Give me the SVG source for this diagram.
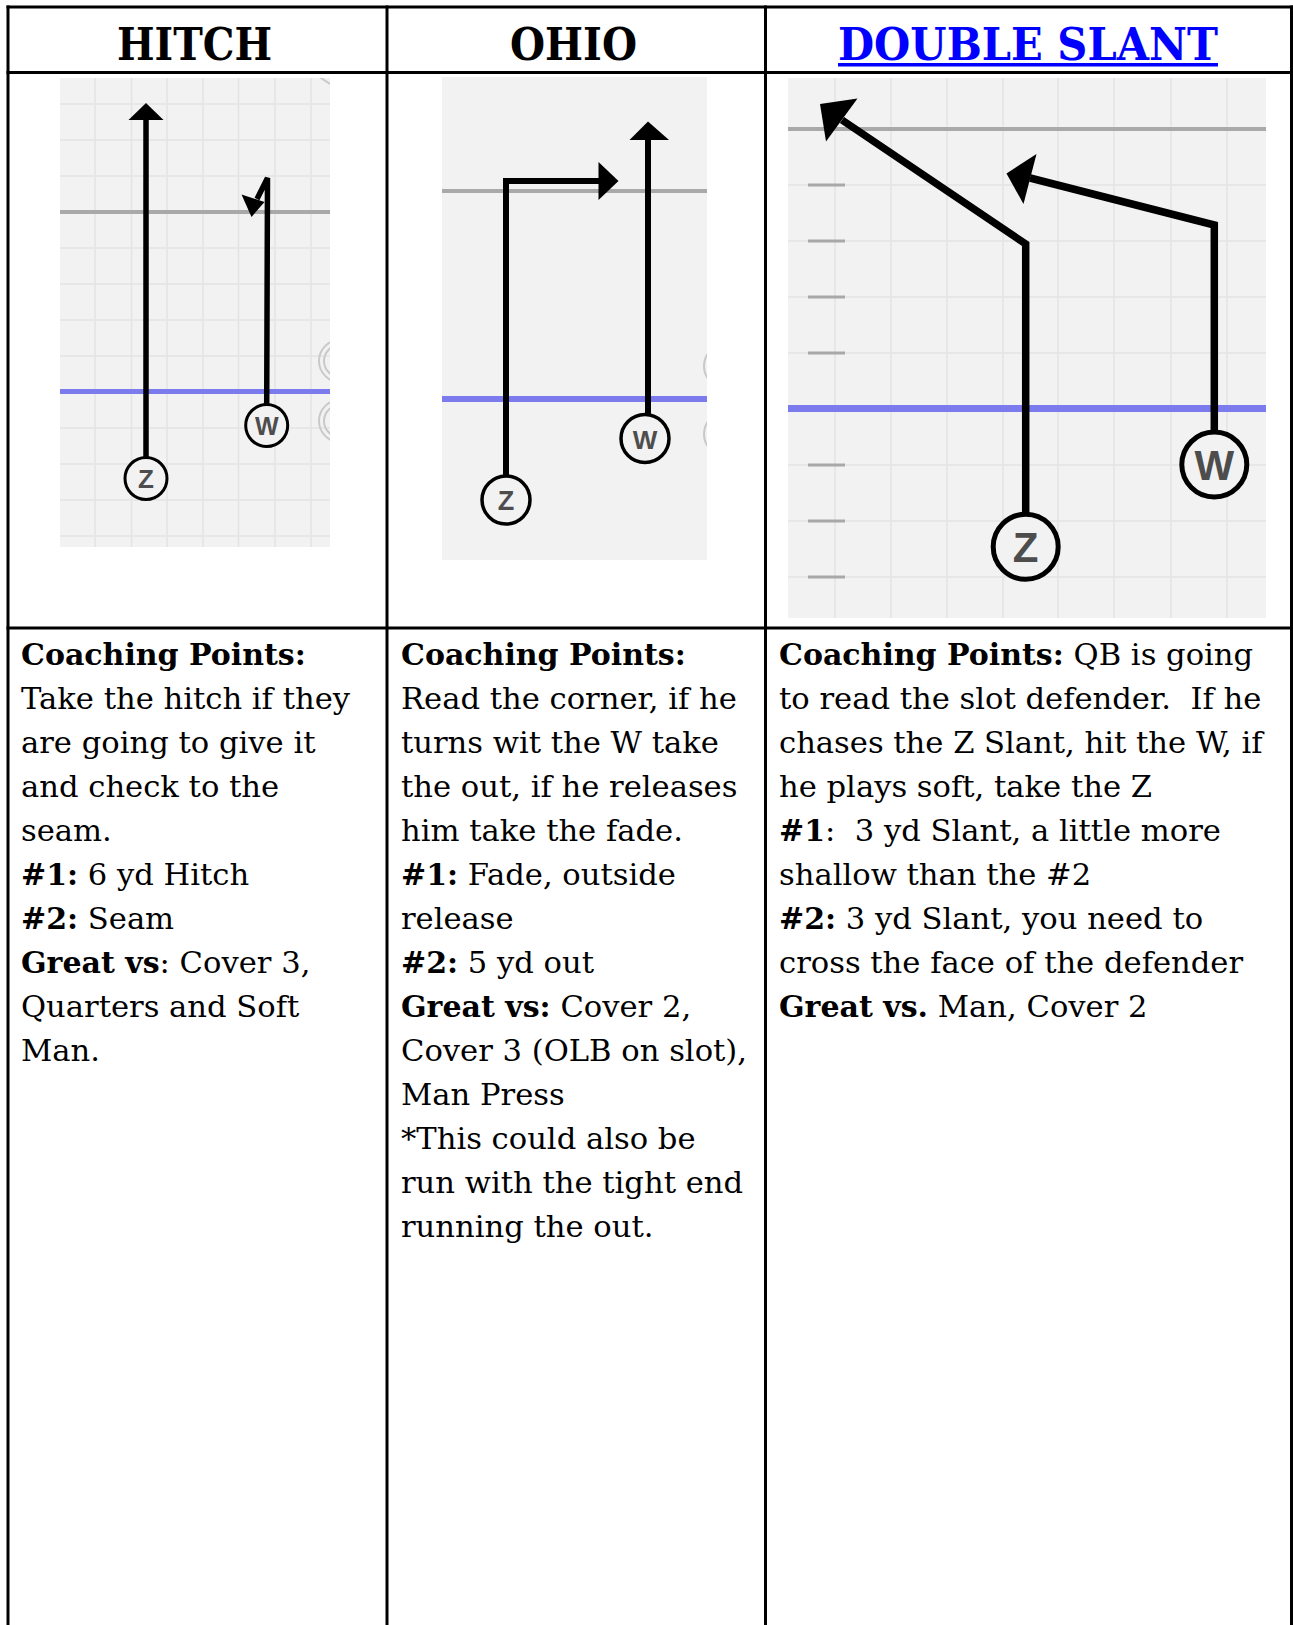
<svg xmlns="http://www.w3.org/2000/svg" width="1293" height="1625" viewBox="0 0 1293 1625">
<style>
.grid{stroke:#000;stroke-width:3;fill:none}
.hdr{font-family:"DejaVu Serif","Liberation Serif",serif;font-weight:bold;font-size:45px;fill:#000}
.link{fill:#0000ff}
.body{font-family:"DejaVu Serif","Liberation Serif",serif;font-size:30.6px;fill:#000}
.b{font-weight:bold;font-size:30px}
.field{fill:#f2f2f2}
.gl{stroke:#e4e4e4;stroke-width:1.5;fill:none}
.los{stroke:#a9a9a9;stroke-width:4;fill:none}
.blue{stroke:#7b7bee;fill:none}
.hash{stroke:#a8a8a8;stroke-width:3;fill:none}
.route{stroke:#000;fill:none;stroke-linejoin:miter;stroke-linecap:butt}
.head{fill:#000}
.plr{fill:#f2f2f2;stroke:#000}
.lbl{font-family:"Liberation Sans",Arial,sans-serif;font-weight:bold;fill:#4d4d4d;text-anchor:middle}
.ghost{fill:none;stroke:#c9c9c9;stroke-width:2}
</style>
<defs>
<clipPath id="c1"><rect x="60" y="78" width="270" height="469"/></clipPath>
<clipPath id="c2"><rect x="442" y="77" width="265" height="483"/></clipPath>
<clipPath id="c3"><rect x="788" y="78" width="478" height="540"/></clipPath>
</defs>
<rect x="0" y="0" width="1293" height="1625" fill="#fff"/>

<g id="table">
<line class="grid" x1="6.5" y1="7" x2="1293" y2="7"/>
<line class="grid" x1="6.5" y1="72.5" x2="1293" y2="72.5"/>
<line class="grid" x1="6.5" y1="628" x2="1293" y2="628"/>
<line class="grid" x1="8" y1="5.5" x2="8" y2="1625"/>
<line class="grid" x1="387" y1="5.5" x2="387" y2="1625"/>
<line class="grid" x1="765.5" y1="5.5" x2="765.5" y2="1625"/>
<line class="grid" x1="1291.5" y1="5.5" x2="1291.5" y2="1625"/>
</g>

<g id="headers">
<text class="hdr" x="117" y="60" textLength="155" lengthAdjust="spacingAndGlyphs">HITCH</text>
<text class="hdr" x="510" y="60" textLength="127" lengthAdjust="spacingAndGlyphs">OHIO</text>
<text class="hdr link" x="838" y="60" textLength="380" lengthAdjust="spacingAndGlyphs">DOUBLE SLANT</text>
<rect class="link" x="838" y="63" width="380" height="3.5"/>
</g>

<g id="field-hitch">
<rect class="field" x="60" y="78" width="270" height="469"/>
<g clip-path="url(#c1)">
<path class="gl" d="M95 78V547M131.5 78V547M167 78V547M203 78V547M238.5 78V547M275 78V547M311 78V547M60 104H330M60 140H330M60 176H330M60 248H330M60 284H330M60 320H330M60 356H330M60 428H330M60 464H330M60 500H330M60 536H330"/>
<line class="los" x1="60" y1="212" x2="330" y2="212"/>
<line class="blue" stroke-width="5" x1="60" y1="391.5" x2="330" y2="391.5"/>
<circle class="ghost" cx="340" cy="361" r="21"/><circle class="ghost" cx="340" cy="361" r="16"/>
<circle class="ghost" cx="340" cy="421" r="21"/><circle class="ghost" cx="340" cy="421" r="16"/>
<line class="ghost" x1="318" y1="76" x2="330" y2="84"/>
</g>
</g>

<g id="field-ohio">
<rect class="field" x="442" y="77" width="265" height="483"/>
<g clip-path="url(#c2)">
<line class="los" x1="442" y1="191" x2="707" y2="191"/>
<line class="blue" stroke-width="6" x1="442" y1="399" x2="707" y2="399"/>
<circle class="ghost" cx="726" cy="366" r="22"/>
<circle class="ghost" cx="726" cy="434" r="22"/>
</g>
</g>

<g id="field-double-slant">
<rect class="field" x="788" y="78" width="478" height="540"/>
<g clip-path="url(#c3)">
<path class="gl" d="M835 78V618M891 78V618M947 78V618M1003 78V618M1058 78V618M1114 78V618M1171 78V618M1227 78V618M788 185H1266M788 241H1266M788 297H1266M788 353H1266M788 465H1266M788 521H1266M788 577H1266"/>
<line class="los" x1="788" y1="129" x2="1266" y2="129"/>
<line class="blue" stroke-width="7" x1="788" y1="408.5" x2="1266" y2="408.5"/>
<path class="hash" d="M808 185H845M808 241H845M808 297H845M808 353H845M808 465H845M808 521H845M808 577H845"/>
</g>
</g>

<g id="connectors">
<g id="route-hitch-z">
<path class="route" stroke-width="5.5" d="M146 457V118"/>
<polygon class="head" points="146,103 163.5,120 128.5,120"/>
</g>
<g id="route-hitch-w">
<path class="route" stroke-width="5.5" d="M266.7 404L267.5 178L257 199"/>
<polygon class="head" points="241.5,194.5 264.5,202 251.5,217"/>
</g>
<g id="route-ohio-z">
<path class="route" stroke-width="6" d="M506 476V181H600"/>
<polygon class="head" points="618.5,181 598.5,162 598.5,200"/>
</g>
<g id="route-ohio-w">
<path class="route" stroke-width="6" d="M648 415V138"/>
<polygon class="head" points="648,121.5 669,140 629.5,140"/>
</g>
<g id="route-ds-z">
<path class="route" stroke-width="7.5" d="M1025.7 513V244L842 120"/>
<polygon class="head" points="820,104 857.5,98.5 826,141.5"/>
</g>
<g id="route-ds-w">
<path class="route" stroke-width="7.5" d="M1214.3 431V225L1030 178"/>
<polygon class="head" points="1006.5,173.5 1036.5,154 1023.5,204"/>
</g>
</g>

<g id="player-hitch-z"><circle class="plr" stroke-width="3" cx="146" cy="478.5" r="21"/><text class="lbl" x="146" y="488" font-size="26">Z</text></g>
<g id="player-hitch-w"><circle class="plr" stroke-width="3" cx="266.7" cy="425.5" r="21"/><text class="lbl" x="266.7" y="435" font-size="25">W</text></g>
<g id="player-ohio-z"><circle class="plr" stroke-width="3.5" cx="506" cy="500" r="24"/><text class="lbl" x="506" y="510" font-size="27">Z</text></g>
<g id="player-ohio-w"><circle class="plr" stroke-width="3.5" cx="645" cy="438.5" r="24"/><text class="lbl" x="645" y="448.5" font-size="26">W</text></g>
<g id="player-ds-z"><circle class="plr" stroke-width="5" cx="1025.7" cy="546.8" r="32.5"/><text class="lbl" x="1025.7" y="562" font-size="42">Z</text></g>
<g id="player-ds-w"><circle class="plr" stroke-width="5" cx="1214.3" cy="464.6" r="32.5"/><text class="lbl" x="1214.3" y="480" font-size="42">W</text></g>

<g id="text-hitch" class="body">
<text x="21" y="665"><tspan class="b">Coaching Points:</tspan></text>
<text x="21" y="709">Take the hitch if they</text>
<text x="21" y="753">are going to give it</text>
<text x="21" y="797">and check to the</text>
<text x="21" y="841">seam.</text>
<text x="21" y="885"><tspan class="b">#1:</tspan> 6 yd Hitch</text>
<text x="21" y="929"><tspan class="b">#2:</tspan> Seam</text>
<text x="21" y="973"><tspan class="b">Great vs</tspan>: Cover 3,</text>
<text x="21" y="1017">Quarters and Soft</text>
<text x="21" y="1061">Man.</text>
</g>

<g id="text-ohio" class="body">
<text x="401" y="665"><tspan class="b">Coaching Points:</tspan></text>
<text x="401" y="709">Read the corner, if he</text>
<text x="401" y="753">turns wit the W take</text>
<text x="401" y="797">the out, if he releases</text>
<text x="401" y="841">him take the fade.</text>
<text x="401" y="885"><tspan class="b">#1:</tspan> Fade, outside</text>
<text x="401" y="929">release</text>
<text x="401" y="973"><tspan class="b">#2:</tspan> 5 yd out</text>
<text x="401" y="1017"><tspan class="b">Great vs:</tspan> Cover 2,</text>
<text x="401" y="1061">Cover 3 (OLB on slot),</text>
<text x="401" y="1105">Man Press</text>
<text x="401" y="1149">*This could also be</text>
<text x="401" y="1193">run with the tight end</text>
<text x="401" y="1237">running the out.</text>
</g>

<g id="text-double-slant" class="body">
<text x="779" y="665"><tspan class="b">Coaching Points:</tspan> QB is going</text>
<text x="779" y="709" xml:space="preserve">to read the slot defender.  If he</text>
<text x="779" y="753">chases the Z Slant, hit the W, if</text>
<text x="779" y="797">he plays soft, take the Z</text>
<text x="779" y="841" xml:space="preserve"><tspan class="b">#1</tspan>:  3 yd Slant, a little more</text>
<text x="779" y="885">shallow than the #2</text>
<text x="779" y="929"><tspan class="b">#2:</tspan> 3 yd Slant, you need to</text>
<text x="779" y="973">cross the face of the defender</text>
<text x="779" y="1017"><tspan class="b">Great vs.</tspan> Man, Cover 2</text>
</g>
</svg>
